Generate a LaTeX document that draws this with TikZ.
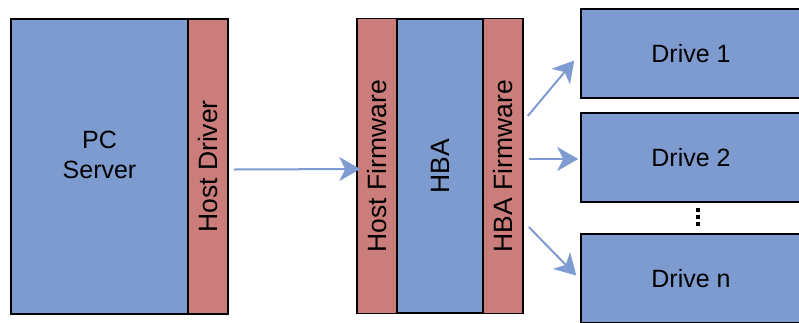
\documentclass[tikz,border=0pt]{standalone}
\usepackage{fontspec}
\setsansfont{Liberation Sans}
\usetikzlibrary{arrows.meta}

\definecolor{hwblue}{RGB}{126,155,207}
\definecolor{fwred}{RGB}{203,125,123}
\definecolor{linkblue}{RGB}{127,156,210}

\begin{document}
\begin{tikzpicture}[
  x=1pt, y=-1pt,
  font=\sffamily\fontsize{25}{30}\selectfont,
  box/.style={draw, line width=1.5pt, inner sep=0pt, align=center, fill=hwblue},
  layer/.style={box, fill=fwred, rotate=90, minimum height=40pt, minimum width=295pt,
    font=\sffamily\fontsize{26.5}{30}\selectfont},
  drive/.style={box, minimum width=220pt, minimum height=89pt},
  arr/.style={-{Stealth[length=21pt, width=24pt, inset=6pt]}, line width=2pt, draw=linkblue},
]
  \useasboundingbox (0,0) rectangle (799,322);
  \clip (0,0) rectangle (799,322);

  % Server side
  \node[box, minimum width=177pt, minimum height=295pt] (pc) at (99.5,166.5) {PC\\Server\\[-6pt]\mbox{}};
  \node[layer] (hdrv) at (208,166.5) {Host Driver};

  % Host bus adapter
  \node[layer] (hfw) at (377,166) {Host Firmware};
  \node[box, rotate=90, minimum width=294pt, minimum height=86pt,
    font=\sffamily\fontsize{26.5}{30}\selectfont] (hba) at (440,166) {HBA};
  \node[layer] (hbafw) at (503,166) {HBA Firmware};

  % Drives
  \node[drive] (d1) at (691,53.5) {Drive 1};
  \node[drive] (d2) at (691,157.5) {Drive 2};
  \node[drive] (dn) at (691,278.5) {Drive n};
  \foreach \y in {208,215,222}
    \fill (695.5,\y) rectangle ++(4,4);

  % Links
  \draw[arr] ([xshift=5pt,yshift=-3pt]hdrv.south) -- ([xshift=4pt,yshift=-3pt]hfw.north);
  \draw[arr] ([shift={(4,-50)}]hbafw.south) -- ([shift={(-6,7)}]d1.west);
  \draw[arr] ([shift={(5,-7)}]hbafw.south) -- ([shift={(-2,1.5)}]d2.west);
  \draw[arr] ([shift={(5,61)}]hbafw.south) -- ([shift={(-4,-3)}]dn.west);

\end{tikzpicture}
\end{document}
